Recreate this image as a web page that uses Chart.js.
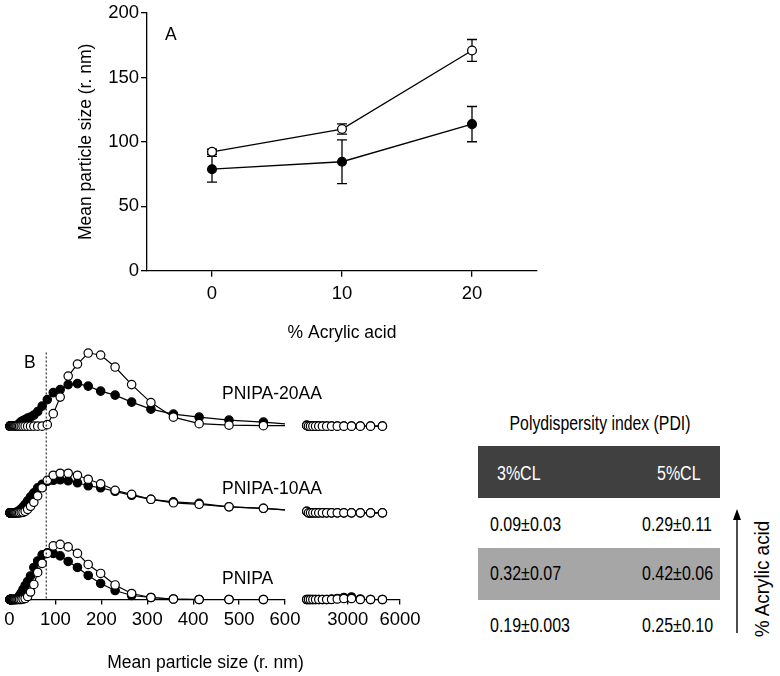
<!DOCTYPE html>
<html><head><meta charset="utf-8">
<script src="https://cdn.jsdelivr.net/npm/chart.js@4.4.1/dist/chart.umd.min.js"></script>
<style>
html,body{margin:0;padding:0;background:#fff;}
body{width:780px;height:676px;position:relative;overflow:hidden;font-family:"Liberation Sans",Arial,sans-serif;color:#000;}
canvas{position:absolute;}
.t{position:absolute;white-space:nowrap;font-size:17.5px;line-height:20px;height:20px;}
.n{position:absolute;white-space:nowrap;font-family:"Liberation Sans",Arial,sans-serif;font-size:19.5px;line-height:22px;height:22px;transform-origin:left center;transform:scaleX(0.82);}
</style></head><body>
<canvas id="cA" width="560" height="350" style="left:0;top:0"></canvas>
<canvas id="cB1" width="310" height="346" style="left:0;top:330px"></canvas>
<canvas id="cB2" width="140" height="346" style="left:290px;top:330px"></canvas>
<div id="ann"></div>
<svg width="780" height="676" style="position:absolute;left:0;top:0;pointer-events:none">
  <line x1="737" y1="633" x2="737" y2="518" stroke="#000" stroke-width="1.4"/>
  <polygon points="737,509 733,520 741,520" fill="#000"/>
</svg>
<script>
// ---------- Panel A data ----------
const acrylicPct = [0, 10, 20];
const sizeTicksA = [0, 50, 100, 150, 200];
const size3CL = [78.8, 84.6, 113.8];   // filled circles
const err3CL  = [10, 17, 13.7];
const size5CL = [92.3, 110, 171];      // open circles
const err5CL  = [2, 4, 8.5];

// ---------- Panel B data (size distributions by intensity) ----------
const sizeBins = [1.0, 1.2, 1.4, 1.6, 1.8, 2.1, 2.45, 2.8, 3.3, 3.8, 4.4, 5.1, 5.9, 6.8, 7.9, 9.1, 10.6, 12.2, 14.2, 16.4,
  19.0, 22.0, 25.5, 29.5, 34.1, 39.5, 45.8, 53.0, 61.4, 71.1, 82.3, 95.3, 110.4, 127.8, 148, 171.4, 198.5, 230, 266, 308,
  357, 413, 478, 553, 640, 741, 858, 994, 1151, 1333, 1543, 1787, 2069, 2396, 2775, 3213, 3721, 4309, 4990];
const pnipa20AA_3CL = [0,0,0,0,0,0,0,0,0,0,0,0,0,0,0,0,0,0,0,0,
  0.3,0.6,0.9,1.1,1.3,1.6,1.8,2.2,2.9,4.0,5.3,6.7,7.3,8.3,8.5,8.0,7.0,6.2,4.8,3.4,
  2.4,1.8,1.2,0.8,0.2,0,0,0,0,0,0,0,0,0,0,0,0,0,0];
const pnipa20AA_5CL = [0,0,0,0,0,0,0,0,0,0,0,0,0,0,0,0,0,0,0,0,
  0,0,0,0,0,0,0,0,0,0,0.3,2.5,5.8,10.0,12.4,14.6,14.2,11.8,8.3,4.7,
  1.8,0.5,0.2,0.1,0.1,0,0,0,0,0,0,0,0,0,0,0,0,0,0];
const pnipa10AA_3CL = [0,0,0,0,0,0,0,0,0,0,0,0,0,0,0,0,0,0,0.1,0.1,
  0.3,0.5,0.8,1.2,1.7,2.4,3.2,4.0,5.0,5.7,6.3,6.5,6.6,6.4,6.0,5.4,5.0,4.3,3.5,2.7,
  2.2,1.9,1.2,0.9,0.3,0,0,0,0,0,0,0,0,0,0,0,0,0,0];
const pnipa10AA_5CL = [0,0,0,0,0,0,0,0,0,0,0,0,0,0,0,0,0,0,0,0,
  0,0,0.1,0.1,0.3,0.7,1.3,2.1,3.4,5.0,6.5,7.5,7.9,7.9,7.5,6.7,5.8,4.5,3.7,2.7,
  2.0,1.7,1.2,0.9,0.3,0,0,0,0,0,0,0,0,0,0,0,0,0,0];
const pnipa_3CL = [0,0,0,0,0,0,0,0,0,0,0,0,0,0,0,0,0,0,0,0.1,
  0.4,0.8,1.3,2.0,2.8,3.6,4.7,6.4,7.7,8.9,9.3,9.2,8.7,7.6,6.4,4.8,3.2,1.8,0.8,0.4,
  0.1,0,0,0,0,0,0,0,0,0,0,0,0.1,0.2,0.4,0.5,0.1,0,0];
const pnipa_5CL = [0,0,0,0,0,0,0,0,0,0,0,0,0,0,0,0,0,0,0,0,
  0,0,0,0.1,0.2,0.6,1.5,3.0,5.4,7.2,9.2,10.7,11.0,10.5,9.2,7.0,5.2,2.9,1.2,0.4,
  0.1,0,0,0,0,0,0,0,0,0,0,0,0,0.1,0.2,0.2,0,0,0];
const sampleNames = ['PNIPA-20AA', 'PNIPA-10AA', 'PNIPA'];
const xTicksB1 = [0, 100, 200, 300, 400, 500, 600];
const xTicksB2 = [3000, 6000];
const dottedSize = 80;

// ---------- PDI table ----------
const pdiTitle = 'Polydispersity index (PDI)';
const pdiHeader = ['3%CL', '5%CL'];
const pdi3CL = ['0.09±0.03', '0.32±0.07', '0.19±0.003'];
const pdi5CL = ['0.29±0.11', '0.42±0.06', '0.25±0.10'];

// ---------- common styling ----------
const FONT = {family: '"Liberation Sans", Arial, sans-serif', size: 17.5};
const TICKFONT = {family: '"Liberation Sans", Arial, sans-serif', size: 18.5};
const BLACK = '#000';

const errorBars = {
  id: 'errorBars',
  beforeDatasetsDraw(chart) {
    const ctx = chart.ctx, xs = chart.scales.x, ys = chart.scales.y;
    chart.data.datasets.forEach(ds => {
      if (!ds.errors) return;
      ctx.save();
      ctx.strokeStyle = BLACK; ctx.lineWidth = 1.3;
      ds.data.forEach((p, i) => {
        const e = ds.errors[i];
        const x = xs.getPixelForValue(p.x);
        const yt = ys.getPixelForValue(p.y + e), yb = ys.getPixelForValue(p.y - e);
        ctx.beginPath();
        ctx.moveTo(x, yt); ctx.lineTo(x, yb);
        ctx.moveTo(x - 5, yt); ctx.lineTo(x + 5, yt);
        ctx.moveTo(x - 5, yb); ctx.lineTo(x + 5, yb);
        ctx.stroke();
      });
      ctx.restore();
    });
  }
};

function lineSet(xs, ys, fill, extra) {
  return Object.assign({
    data: xs.map((x, i) => ({x, y: ys[i]})),
    borderColor: BLACK, borderWidth: 1.3, backgroundColor: fill,
    pointRadius: 4.4, pointBorderWidth: 1.3, pointBackgroundColor: fill, pointBorderColor: BLACK,
    pointHoverRadius: 4.4, tension: 0, fill: false
  }, extra || {});
}

// ---------- Panel A ----------
new Chart(document.getElementById('cA'), {
  type: 'line',
  data: {datasets: [
    lineSet(acrylicPct, size3CL, BLACK, {label: '3%CL', errors: err3CL, order: 1}),
    lineSet(acrylicPct, size5CL, '#fff', {label: '5%CL', errors: err5CL, order: 0})
  ]},
  options: {
    responsive: false, animation: false, events: [],
    layout: {padding: {left: 76, top: 10.7, right: 23, bottom: 0}},
    plugins: {legend: {display: false}, tooltip: {enabled: false}},
    scales: {
      x: {
        type: 'linear', min: -5, max: 25,
        afterBuildTicks(s) { s.ticks = acrylicPct.map(v => ({value: v})); },
        afterFit(s) { s.height = 350 - 270.7; },
        grid: {drawOnChartArea: false, tickLength: 6, color: BLACK, lineWidth: 1.3},
        border: {color: BLACK, width: 1.3},
        ticks: {font: TICKFONT, color: BLACK, padding: 6, maxRotation: 0, callback: v => String(v)},
        title: {display: true, text: '% Acrylic acid', font: FONT, color: BLACK, padding: {top: 0, bottom: 6.5}}
      },
      y: {
        type: 'linear', min: 0, max: 200,
        afterBuildTicks(s) { s.ticks = sizeTicksA.map(v => ({value: v})); },
        afterFit(s) { s.width = 147 - 76; },
        grid: {drawOnChartArea: false, tickLength: 6, color: BLACK, lineWidth: 1.3},
        border: {color: BLACK, width: 1.3},
        ticks: {font: TICKFONT, color: BLACK, padding: 2, callback: v => String(v)},
        title: {display: true, text: 'Mean particle size (r. nm)', font: FONT, color: BLACK, padding: {top: 0, bottom: 0}}
      }
    }
  },
  plugins: [errorBars]
});

// ---------- Panel B ----------
const rowSpan = 17.3;
const yScalesB = {
  y20: {type: 'linear', display: false, min: -2 * rowSpan, max: rowSpan},
  y10: {type: 'linear', display: false, min: -rowSpan, max: 2 * rowSpan},
  yP:  {type: 'linear', display: false, min: 0, max: 3 * rowSpan}
};
const groupsB = [
  ['y20', pnipa20AA_3CL, pnipa20AA_5CL],
  ['y10', pnipa10AA_3CL, pnipa10AA_5CL],
  ['yP',  pnipa_3CL, pnipa_5CL]
];
function datasetsB(keep, clip) {
  const out = [];
  groupsB.forEach(([axis, filled, open]) => {
    const idx = sizeBins.map((x, i) => i).filter(i => keep(sizeBins[i]));
    const xs = idx.map(i => sizeBins[i]);
    const st = {yAxisID: axis, clip, pointRadius: 4.2, pointHoverRadius: 4.2, borderWidth: 1.2, pointBorderWidth: 1.2};
    out.push(lineSet(xs, idx.map(i => filled[i]), BLACK, Object.assign({order: 1}, st)));
    out.push(lineSet(xs, idx.map(i => open[i]), '#fff', Object.assign({order: 0}, st)));
  });
  return out;
}
function xAxisB(min, max, tickVals) {
  return {
    type: 'linear', min, max,
    afterBuildTicks(s) { s.ticks = tickVals.map(v => ({value: v})); },
    afterFit(s) { s.height = 346 - 269.5; },
    grid: {drawOnChartArea: false, tickLength: 5, color: BLACK, lineWidth: 1.3},
    border: {color: BLACK, width: 1.3},
    ticks: {font: TICKFONT, color: BLACK, padding: 4, maxRotation: 0, minRotation: 0, autoSkip: false, callback: v => String(v)}
  };
}
const dottedLine = {
  id: 'dottedLine',
  afterDatasetsDraw(chart) {
    const {ctx, chartArea} = chart;
    const x = chart.scales.x.getPixelForValue(dottedSize);
    ctx.save();
    ctx.strokeStyle = BLACK; ctx.lineWidth = 1; ctx.setLineDash([2, 2]);
    ctx.beginPath(); ctx.moveTo(x, chartArea.top + 13); ctx.lineTo(x, chartArea.bottom); ctx.stroke();
    ctx.restore();
  }
};
new Chart(document.getElementById('cB1'), {
  type: 'line',
  data: {datasets: datasetsB(x => x <= 700, {left: 6, right: 0, top: 6, bottom: 6})},
  options: {
    responsive: false, animation: false, events: [],
    layout: {padding: {left: 9.5, top: 9.5, right: 25, bottom: 0}},
    plugins: {legend: {display: false}, tooltip: {enabled: false}},
    scales: Object.assign({x: xAxisB(0, 600, xTicksB1)}, yScalesB)
  },
  plugins: [dottedLine]
});
new Chart(document.getElementById('cB2'), {
  type: 'line',
  data: {datasets: datasetsB(x => x >= 600, {left: 6, right: 6, top: 6, bottom: 6})},
  options: {
    responsive: false, animation: false, events: [],
    layout: {padding: {left: 16, top: 9.5, right: 30, bottom: 0}},
    plugins: {legend: {display: false}, tooltip: {enabled: false}},
    scales: Object.assign({x: xAxisB(600, 6000, xTicksB2)}, yScalesB)
  }
});

// ---------- annotations & table ----------
const ann = document.getElementById('ann');
function addText(cls, txt, left, cy, extra) {
  const d = document.createElement('div');
  d.className = cls; d.textContent = txt;
  const h = cls === 'n' ? 22 : 20;
  d.style.left = left + 'px'; d.style.top = (cy - h / 2) + 'px';
  if (extra) Object.assign(d.style, extra);
  ann.appendChild(d);
  return d;
}
function addBox(l, t, w, h, bg) {
  const d = document.createElement('div');
  Object.assign(d.style, {position: 'absolute', left: l + 'px', top: t + 'px', width: w + 'px', height: h + 'px', background: bg});
  ann.appendChild(d);
}
addText('t', 'A', 165, 34);
addText('t', 'B', 24, 362);
addText('t', sampleNames[0], 222, 392.5);
addText('t', sampleNames[1], 222, 487.5);
addText('t', sampleNames[2], 222, 577.5);
addText('t', 'Mean particle size (r. nm)', 205.5, 662, {transform: 'translateX(-50%)'});

addBox(478, 446, 242, 52, '#404040');
addBox(478, 548, 242, 52, '#a6a6a6');
addText('n', pdiTitle, 600, 423, {fontSize: '20px', transformOrigin: 'center center', transform: 'translateX(-50%) scaleX(0.79)'});
addText('n', pdiHeader[0], 497, 473, {color: '#fff'});
addText('n', pdiHeader[1], 657, 473, {color: '#fff'});
const rowY = [524, 573, 625];
rowY.forEach((cy, i) => {
  addText('n', pdi3CL[i], 490, cy);
  addText('n', pdi5CL[i], 642, cy);
});
addText('n', '% Acrylic acid', 762, 579, {fontSize: '21px', transformOrigin: 'center center', transform: 'translate(-50%,0) rotate(-90deg) scaleX(0.9)'});
</script>
</body></html>
